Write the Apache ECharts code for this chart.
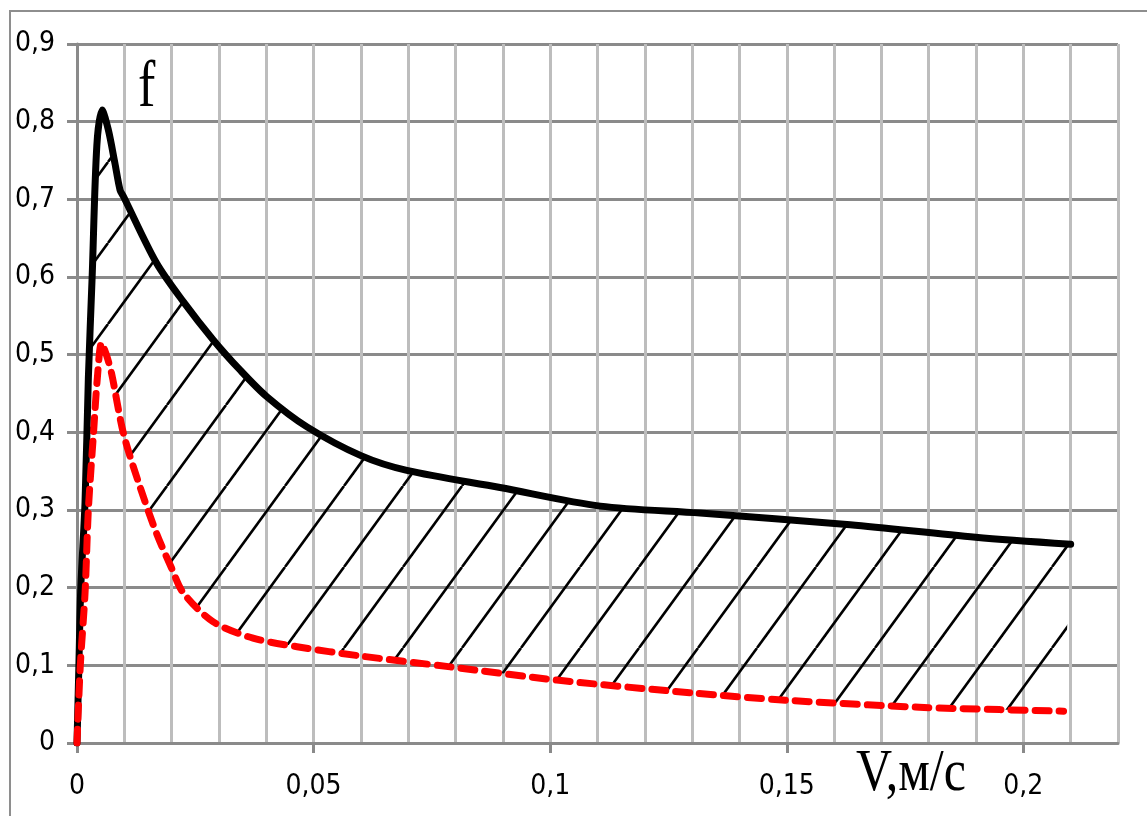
<!DOCTYPE html>
<html>
<head>
<meta charset="utf-8">
<script src="https://cdn.jsdelivr.net/npm/echarts@6/dist/echarts.min.js"></script>
<style>
html, body { margin: 0; padding: 0; background: #fff; }
#frame { position: absolute; left: 9px; top: 10px; width: 1200px; height: 900px;
         border-left: 2px solid #8e8e8e; border-top: 2px solid #8e8e8e; }
#chart { position: absolute; left: 0; top: 0; width: 1147px; height: 816px; }
</style>
</head>
<body>
<div id="frame"></div>
<div id="chart"></div>
<script>
// f(V) upper curve (black, solid)
const upperCurve = [
    [0, 0], [0.0004, 0.1], [0.0008, 0.2], [0.0017, 0.31], [0.0024, 0.47],
    [0.0032, 0.6], [0.0042, 0.77], [0.0053, 0.815], [0.0066, 0.79],
    [0.008, 0.747], [0.0091, 0.712], [0.0098, 0.704], [0.0168, 0.618],
    [0.0225, 0.568], [0.0288, 0.519], [0.0345, 0.48], [0.0401, 0.446],
    [0.0486, 0.407], [0.06, 0.37], [0.0697, 0.351], [0.0894, 0.329],
    [0.1106, 0.305], [0.1317, 0.296], [0.1634, 0.281], [0.1899, 0.265],
    [0.21, 0.256]
];
// f(V) lower curve (red, dashed)
const lowerCurve = [
    [0, 0], [0.0007, 0.1], [0.0017, 0.193], [0.0024, 0.3], [0.0035, 0.4],
    [0.0043, 0.47], [0.0052, 0.515], [0.0062, 0.5], [0.0073, 0.476],
    [0.0098, 0.399], [0.0133, 0.33], [0.0168, 0.27], [0.02, 0.225],
    [0.0225, 0.193], [0.0288, 0.156], [0.0372, 0.135], [0.0465, 0.124],
    [0.06, 0.112], [0.0789, 0.098], [0.1014, 0.081], [0.13, 0.0645],
    [0.15, 0.055], [0.178, 0.046], [0.195, 0.043], [0.2085, 0.041]
];
const xTicks = [0, 0.05, 0.1, 0.15, 0.2];
const yTicks = [0, 0.1, 0.2, 0.3, 0.4, 0.5, 0.6, 0.7, 0.8, 0.9];

const labelFont = '"Liberation Sans Narrow", "DejaVu Sans Condensed", sans-serif';
const fmt = v => String(Math.round(v * 1000) / 1000).replace('.', ',');
const gridGray = '#8a8a8a';

// hatch pattern "/" lines
function makeHatch() {
    const W = 59, H = 81, off = 49;
    const c = document.createElement('canvas');
    c.width = W; c.height = H;
    const ctx = c.getContext('2d');
    ctx.strokeStyle = '#000';
    ctx.lineWidth = 2.6;
    for (let k = -1; k <= 2; k++) {
        const cx = off + k * W;
        ctx.beginPath();
        ctx.moveTo(cx, 0);
        ctx.lineTo(cx - W, H);
        ctx.stroke();
    }
    return c;
}
const hatch = makeHatch();

const chart = echarts.init(document.getElementById('chart'));
chart.setOption({
    animation: false,
    grid: { left: 77, right: 29, top: 44, bottom: 73 },
    xAxis: [
        {
            // grid lines every 0.01
            type: 'value',
            min: 0,
            max: 0.22,
            interval: 0.01,
            axisLine: { lineStyle: { color: gridGray, width: 3 } },
            axisTick: { show: false },
            axisLabel: { show: false },
            splitLine: { show: true, lineStyle: { color: '#bdbdbd', width: 3 } }
        },
        {
            // labels and ticks every 0.05
            type: 'value',
            position: 'bottom',
            min: 0,
            max: 0.22,
            interval: 0.01,
            axisLine: { show: false },
            axisTick: { show: true, length: 10, customValues: xTicks,
                        lineStyle: { color: gridGray, width: 3 } },
            axisLabel: { customValues: xTicks, formatter: fmt, margin: 30,
                         color: '#000', fontSize: 28, fontFamily: labelFont },
            splitLine: { show: false }
        }
    ],
    yAxis: {
        type: 'value',
        min: 0,
        max: 0.9,
        interval: 0.1,
        axisLine: { show: true, lineStyle: { color: gridGray, width: 3 } },
        axisTick: { show: true, length: 10, lineStyle: { color: gridGray, width: 3 } },
        axisLabel: { customValues: yTicks, formatter: fmt, margin: 22, color: '#000',
                     fontSize: 28, fontFamily: labelFont },
        splitLine: { show: true, lineStyle: { color: gridGray, width: 3 } }
    },
    graphic: [
        { type: 'text', x: 138, y: 56, scaleY: 1.25,
          style: { text: 'f', fill: '#000', font: '52px "Liberation Serif", serif' } },
        { type: 'text', x: 856, y: 744, scaleY: 1.2,
          style: { text: 'V,м/с', fill: '#000', font: '50px "Liberation Serif", serif' } }
    ],
    series: [
        {
            type: 'custom',
            data: [[0, 0]],
            z: 1,
            silent: true,
            renderItem: function (params, api) {
                const pts = upperCurve.map(p => api.coord(p))
                    .concat(lowerCurve.slice().reverse().map(p => api.coord(p)));
                return {
                    type: 'polygon',
                    shape: { points: pts },
                    style: { fill: { image: hatch, repeat: 'repeat' }, stroke: null }
                };
            }
        },
        {
            type: 'line',
            data: upperCurve,
            z: 3,
            smooth: 0.3,
            showSymbol: false,
            lineStyle: { color: '#000', width: 7, cap: 'round', join: 'round' }
        },
        {
            type: 'line',
            data: lowerCurve,
            z: 4,
            smooth: 0.3,
            showSymbol: false,
            lineStyle: { color: '#ff0000', width: 7, type: [14, 10], cap: 'round', join: 'round' }
        }
    ]
});
</script>
</body>
</html>
